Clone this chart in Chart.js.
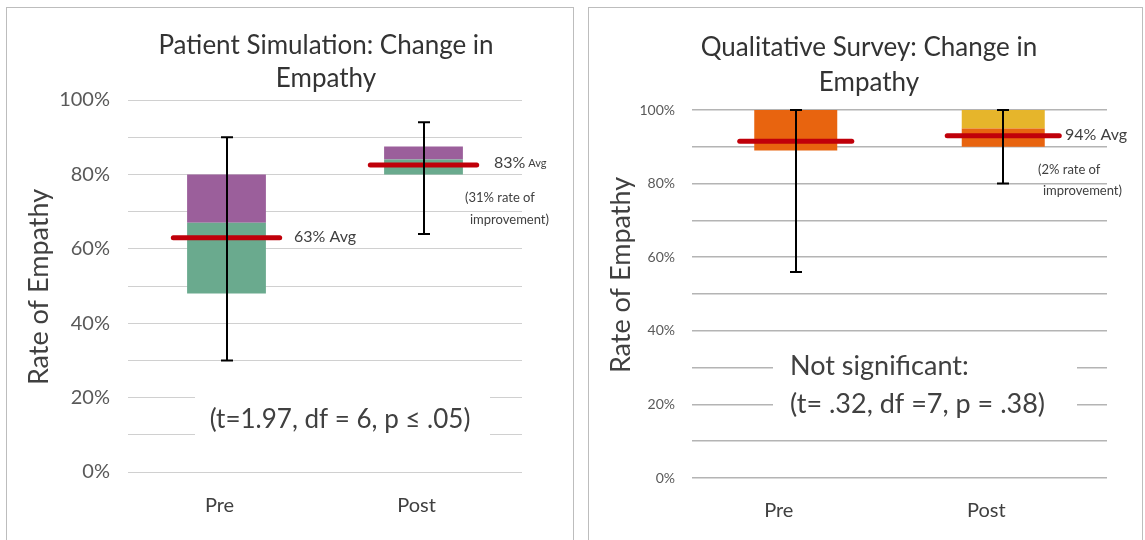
<!DOCTYPE html>
<html>
<head>
<meta charset="utf-8">
<script src="https://cdn.jsdelivr.net/npm/chart.js@4.4.0/dist/chart.umd.min.js"></script>
<style>
body { margin:0; background:#fff; width:1145px; height:540px; overflow:hidden; position:relative; }
.panel { position:absolute; top:7px; height:540px; border:1px solid #bdbdbd; box-sizing:border-box; }
</style>
</head>
<body>
<div class="panel" style="left:6px;width:568px"><canvas id="sim" width="566" height="532"></canvas></div>
<div class="panel" style="left:588px;width:555px"><canvas id="survey" width="553" height="532"></canvas></div>
<script>
// kategori
const categories = ['Pre', 'Post'];

// patient simulation (persen)
const simBottom = [48, 80];
const simMiddle = [67, 84];
const simTop = [80, 87.5];
const simErrLow = [30, 64];
const simErrHigh = [90, 94];
const simAvg = [63, 82.5];

// qualitative survey (persen)
const surveyBottom = [89, 90];
const surveyMiddle = [100, 95];
const surveyTop = [100, 100];
const surveyErrLow = [56, 80];
const surveyErrHigh = [100, 100];
const surveyAvg = [91.5, 93];

const FONT = 'Lato';
Chart.defaults.font.family = FONT;

// judul, error bar, garis rata-rata, dan teks keterangan
const extras = {
  id: 'extras',
  beforeDatasetsDraw(chart, args, o) {
    const ctx = chart.ctx;
    ctx.save();
    ctx.fillStyle = '#fff';
    ctx.fillRect(o.box[0], o.box[1], o.box[2], o.box[3]);
    ctx.fillStyle = '#404040';
    ctx.textBaseline = 'middle';
    o.note.forEach(n => {
      ctx.font = n.size + 'px ' + FONT;
      ctx.textAlign = n.align;
      ctx.fillText(n.text, n.x, n.y);
    });
    // judul chart
    ctx.fillStyle = '#333';
    ctx.textAlign = 'center';
    ctx.font = '26px ' + FONT;
    o.title.forEach((t, i) => ctx.fillText(t, o.titleX, o.titleY[i]));
    // judul sumbu y
    ctx.save();
    ctx.translate(o.yTitle[0], o.yTitle[1]);
    ctx.rotate(-Math.PI / 2);
    ctx.font = '27px ' + FONT;
    ctx.fillStyle = '#404040';
    ctx.fillText('Rate of Empathy', 0, 0);
    ctx.restore();
    ctx.restore();
  },
  afterDatasetsDraw(chart, args, o) {
    const ctx = chart.ctx, xs = chart.scales.x, ys = chart.scales.y;
    const band = xs.width / categories.length;
    ctx.save();
    o.avg.forEach((v, i) => {
      const cx = xs.getPixelForValue(i);
      const py = ys.getPixelForValue(v);
      ctx.strokeStyle = '#c0000a';
      ctx.lineWidth = 5;
      ctx.lineCap = 'round';
      ctx.beginPath();
      ctx.moveTo(cx - band * 0.27, py);
      ctx.lineTo(cx + band * 0.27, py);
      ctx.stroke();
    });
    o.errLow.forEach((lo, i) => {
      const cx = Math.round(xs.getPixelForValue(i));
      const top = ys.getPixelForValue(o.errHigh[i]);
      const bot = ys.getPixelForValue(lo);
      ctx.strokeStyle = '#000';
      ctx.lineWidth = 2;
      ctx.lineCap = 'butt';
      ctx.beginPath();
      ctx.moveTo(cx, top); ctx.lineTo(cx, bot);
      ctx.moveTo(cx - 6, top); ctx.lineTo(cx + 6, top);
      ctx.moveTo(cx - 6, bot); ctx.lineTo(cx + 6, bot);
      ctx.stroke();
    });
    ctx.fillStyle = '#404040';
    ctx.textBaseline = 'middle';
    ctx.textAlign = 'left';
    o.labels.forEach(l => {
      let x = l.x;
      l.parts.forEach(p => {
        ctx.font = p[1] + 'px ' + FONT;
        ctx.fillText(p[0], x, l.y);
        x += ctx.measureText(p[0]).width;
      });
    });
    ctx.restore();
  }
};

function makeChart(id, cfg) {
  return new Chart(document.getElementById(id), {
    type: 'bar',
    data: {
      labels: categories,
      datasets: [
        { data: categories.map((c, i) => [cfg.bottom[i], cfg.middle[i]]), backgroundColor: cfg.colors[0] },
        { data: categories.map((c, i) => [cfg.middle[i], cfg.top[i]]), backgroundColor: cfg.colors[1] }
      ]
    },
    options: {
      responsive: false,
      animation: false,
      grouped: false,
      categoryPercentage: 1,
      barPercentage: 0.4,
      layout: { padding: { left: 0, right: cfg.right, top: cfg.top0, bottom: 0 } },
      plugins: {
        legend: { display: false },
        tooltip: { enabled: false },
        title: { display: false },
        extras: {
          avg: cfg.avg, errLow: cfg.errLow, errHigh: cfg.errHigh,
          labels: cfg.labels, note: cfg.note, box: cfg.box,
          title: cfg.title, titleX: cfg.titleX, titleY: cfg.titleY, yTitle: cfg.yTitle
        }
      },
      scales: {
        x: {
          grid: { display: false },
          border: { display: false },
          ticks: { color: '#404040', font: { size: 20 }, padding: cfg.xPad, labelOffset: cfg.xShift },
          afterFit: s => { s.height = cfg.xHeight; }
        },
        y: {
          min: 0, max: 100,
          grid: { color: cfg.gridColor, lineWidth: cfg.gridWidth, drawTicks: false },
          border: { display: false },
          ticks: {
            stepSize: 10, padding: cfg.yPad, color: '#595959',
            font: { size: cfg.yFont },
            callback: v => v % 20 === 0 ? v + '%' : ''
          },
          afterFit: s => { s.width = cfg.yWidth; }
        }
      }
    },
    plugins: [extras]
  });
}

makeChart('sim', {
  title: ['Patient Simulation: Change in', 'Empathy'],
  titleX: 319, titleY: [38, 71], yTitle: [32, 279],
  bottom: simBottom, middle: simMiddle, top: simTop,
  avg: simAvg, errLow: simErrLow, errHigh: simErrHigh,
  colors: ['#6aaa8e', '#9b5f9b'],
  top0: 92, right: 51, yWidth: 121, xHeight: 68, xPad: 14, xShift: -7, yPad: 18, yFont: 20,
  gridColor: '#d0d0d0', gridWidth: 1,
  labels: [
    { x: 287, y: 229, parts: [['63% Avg', 16]] },
    { x: 487, y: 155, parts: [['83%', 16], [' Avg', 11]] },
    { x: 458, y: 190, parts: [['(31% rate of', 13]] },
    { x: 463, y: 212, parts: [['improvement)', 13]] }
  ],
  box: [188, 377, 295, 60],
  note: [{ text: '(t=1.97, df = 6, p \u2264 .05)', x: 333, y: 412, size: 26, align: 'center' }]
});

makeChart('survey', {
  title: ['Qualitative Survey: Change in', 'Empathy'],
  titleX: 280, titleY: [40, 75], yTitle: [32, 267],
  bottom: surveyBottom, middle: surveyMiddle, top: surveyTop,
  avg: surveyAvg, errLow: surveyErrLow, errHigh: surveyErrHigh,
  colors: ['#e8640f', '#e6b52b'],
  top0: 102, right: 35, yWidth: 103, xHeight: 62, xPad: 13, xShift: -17, yPad: 17, yFont: 14,
  gridColor: '#b4b4b4', gridWidth: 1.5,
  labels: [
    { x: 476, y: 127, parts: [['94% Avg', 16]] },
    { x: 449, y: 162, parts: [['(2% rate of', 13]] },
    { x: 454, y: 183, parts: [['improvement)', 13]] }
  ],
  box: [184, 337, 304, 80],
  note: [
    { text: 'Not significant:', x: 201, y: 358, size: 27, align: 'left' },
    { text: '(t= .32, df =7, p = .38)', x: 201, y: 396, size: 27, align: 'left' }
  ]
});
</script>
</body>
</html>
